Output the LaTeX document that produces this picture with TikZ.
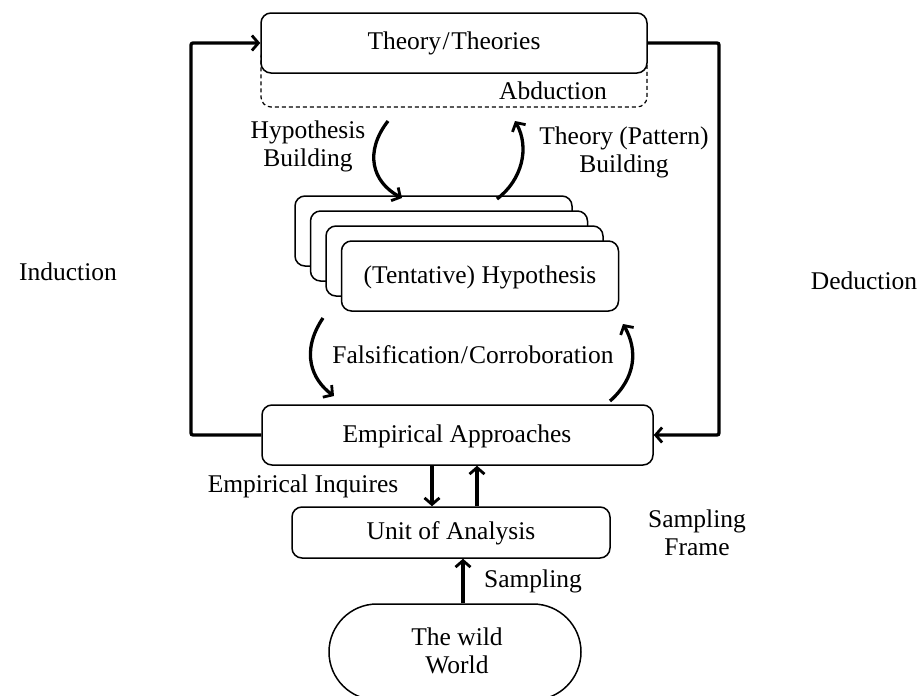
\documentclass[tikz,border=0pt]{standalone}
\usepackage{fontspec}
\setmainfont{Liberation Serif}
\usetikzlibrary{arrows.meta,shapes.misc}
\begin{document}
\begin{tikzpicture}[x=1pt,y=-1pt,
  txt/.style={font=\fontsize{25.5}{28}\selectfont, inner sep=0pt},
  box/.style={draw, line width=1.5pt, rounded corners=10pt, fill=white, inner sep=0pt},
  tip/.style={-{Straight Barb[length=6.5pt,width=15pt,line width=2.8pt]}},
  flow/.style={line width=3.3pt, tip},
  link/.style={line width=3.3pt}
]
\useasboundingbox (0,0) rectangle (922,696);

% top: theory with dashed abduction band
\node[box, line width=1.2pt, dash pattern=on 4pt off 3pt, minimum width=386pt, minimum height=60pt] (abd) at (454,77) {};
\node[box, minimum width=386pt, minimum height=60pt] (theory) at (454,43) {};
\node[txt] (thtxt) at (theory.center) {Theory\kern1.5pt/\kern1.5pt Theories};
\node[txt] (abdtxt) at (553,91) {Abduction};

% stack of hypotheses
\foreach \i/\cx/\cy in {1/433.5/231, 2/449/246, 3/464.5/261, 4/480/276}{
  \node[box, minimum width=277pt, minimum height=70pt] (h\i) at (\cx,\cy) {};
}
\node[txt] (hyptxt) at (480,277) {(Tentative) Hypothesis};

% empirical level
\node[box, minimum width=391pt, minimum height=60pt] (emp) at (457.5,435) {};
\node[txt] (emptxt) at (457,436) {Empirical Approaches};
\node[box, minimum width=318pt, minimum height=51pt] (unit) at (451,532.5) {};
\node[txt] (unittxt) at (451,533) {Unit of Analysis};
\node[draw, line width=1.5pt, rounded rectangle, minimum width=252pt, minimum height=96pt, inner sep=0pt] (world) at (455,652) {};
\node[txt, align=center] (worldtxt) at (457,651) {The wild\\World};

% side labels
\node[txt] (ind) at (68,272) {Induction};
\node[txt] (ded) at (864,281) {Deduction};
\node[txt, align=center] (hbtxt) at (308,146) {Hypothesis\\Building};
\node[txt, align=center] (tbtxt) at (624,152) {Theory (Pattern)\\Building};
\node[txt] (fctxt) at (473,355) {Falsification\kern1pt/\kern1pt Corroboration};
\node[txt] (eitxt) at (303,486) {Empirical Inquires};
\node[txt] (samptxt) at (533,581) {Sampling};
\node[txt, align=center] (sftxt) at (697,533) {Sampling\\Frame};

% induction and deduction loops
\coordinate (lx) at (191,0);
\coordinate (rx) at (719,0);
\draw[link, tip, rounded corners=2pt]
  (emp.west) -- (emp.west -| lx) -- (theory.west -| lx) -- (theory.west);
\draw[link, tip, rounded corners=2pt]
  (theory.east) -- (theory.east -| rx) -- (emp.east -| rx) -- (emp.east);

% curved arrows between levels
\coordinate (hbs) at (388,121);
\coordinate (hbe) at (402,198);
\coordinate (tbs) at (497,199);
\coordinate (tbe) at (515,121);
\coordinate (fls) at (323,318);
\coordinate (fle) at (334,396);
\coordinate (frs) at (610,401);
\coordinate (fre) at (623,324);
\draw[flow] (hbs) .. controls (364,152) and (372,182) .. (hbe);
\draw[flow] (tbs) .. controls (522,180) and (530,148) .. (tbe);
\draw[flow] (fls) .. controls (300,352) and (312,380) .. (fle);
\draw[flow] (frs) .. controls (636,378) and (638,350) .. (fre);

% vertical arrows
\draw[flow] (emp.south -| 432,0) -- (unit.north -| 432,0);
\draw[flow] (unit.north -| 477,0) -- (emp.south -| 477,0);
\draw[flow] (world.north -| 463,0) -- (unit.south -| 463,0);
\end{tikzpicture}
\end{document}
